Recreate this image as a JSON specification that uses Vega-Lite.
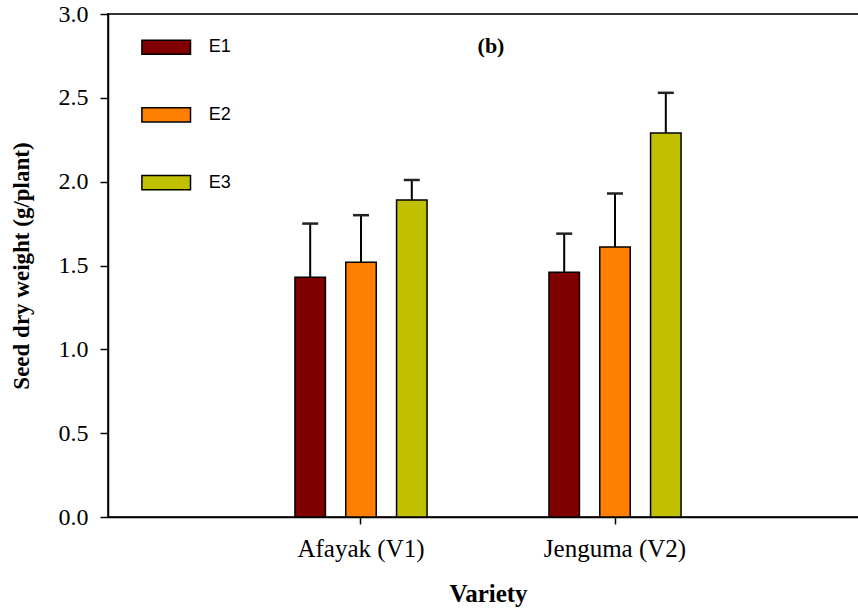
{
  "$schema": "https://vega.github.io/schema/vega-lite/v6.json",
  "autosize": {"type": "none"},
  "padding": {"left": 108, "top": 14, "right": 0, "bottom": 93},
  "width": 760,
  "height": 503,
  "title": {
    "text": "(b)",
    "orient": "top",
    "anchor": "middle",
    "baseline": "alphabetic",
    "offset": -42,
    "dx": 3,
    "dy": 31,
    "font": "Liberation Serif",
    "fontSize": 22,
    "fontWeight": "bold",
    "color": "black"
  },
  "data": {
    "values": [
      {"variety": "Afayak (V1)", "env": "E1", "value": 1.43, "upper": 1.75},
      {"variety": "Afayak (V1)", "env": "E2", "value": 1.52, "upper": 1.80},
      {"variety": "Afayak (V1)", "env": "E3", "value": 1.89, "upper": 2.01},
      {"variety": "Jenguma (V2)", "env": "E1", "value": 1.46, "upper": 1.69},
      {"variety": "Jenguma (V2)", "env": "E2", "value": 1.61, "upper": 1.93},
      {"variety": "Jenguma (V2)", "env": "E3", "value": 2.29, "upper": 2.53}
    ]
  },
  "encoding": {
    "x": {
      "field": "variety",
      "type": "nominal",
      "sort": null,
      "scale": {"paddingInner": 0.4, "paddingOuter": 0.696},
      "axis": {
        "title": "Variety",
        "labelAngle": 0,
        "tickSize": 7,
        "labelPadding": 12,
        "labelFontSize": 25,
        "titlePadding": 20,
        "titleFontSize": 25
      }
    },
    "xOffset": {
      "field": "env",
      "type": "nominal",
      "scale": {"paddingInner": 0.4, "paddingOuter": 0.2}
    }
  },
  "layer": [
    {
      "mark": {"type": "rule", "stroke": "black", "strokeWidth": 2},
      "encoding": {
        "y": {"field": "value", "type": "quantitative"},
        "y2": {"field": "upper"}
      }
    },
    {
      "mark": {"type": "tick", "color": "#222222", "size": 16, "thickness": 2.5, "opacity": 1},
      "encoding": {
        "y": {"field": "upper", "type": "quantitative"}
      }
    },
    {
      "mark": {"type": "bar", "stroke": "black", "strokeWidth": 1.5, "opacity": 1},
      "encoding": {
        "y": {
          "field": "value",
          "type": "quantitative",
          "scale": {"domain": [0, 3], "nice": false, "zero": true},
          "axis": {
            "title": "Seed dry weight (g/plant)",
            "values": [0, 0.5, 1, 1.5, 2, 2.5, 3],
            "format": ".1f",
            "tickSize": 8,
            "labelPadding": 12,
            "labelFontSize": 24,
            "titlePadding": 25,
            "titleFontSize": 23
          }
        },
        "color": {
          "field": "env",
          "type": "nominal",
          "scale": {"domain": ["E1", "E2", "E3"], "range": ["#800000", "#ff8000", "#c0c000"]},
          "legend": {
            "title": null,
            "orient": "none",
            "legendX": 32.7,
            "legendY": 7.7,
            "padding": 0,
            "symbolType": "M-1,-0.29H1V0.29H-1Z",
            "symbolSize": 2362,
            "symbolStrokeColor": "black",
            "symbolStrokeWidth": 1.5,
            "symbolOpacity": 1,
            "labelOffset": 17,
            "rowPadding": 31.7,
            "labelFont": "Liberation Sans",
            "labelFontSize": 18,
            "labelColor": "black"
          }
        }
      }
    }
  ],
  "config": {
    "view": {"stroke": "#333333", "strokeWidth": 2},
    "axis": {
      "grid": false,
      "domainColor": "black",
      "domainWidth": 1.5,
      "tickColor": "black",
      "tickWidth": 1.5,
      "labelFont": "Liberation Serif",
      "labelColor": "black",
      "titleFont": "Liberation Serif",
      "titleFontWeight": "bold",
      "titleColor": "black"
    }
  }
}
